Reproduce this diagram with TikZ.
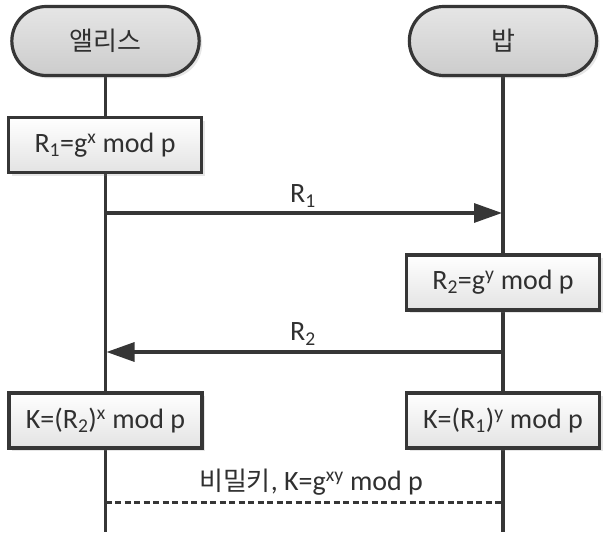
\documentclass[tikz,border=0pt]{standalone}
\usepackage{fontspec}
\setmainfont{Carlito}
\newfontfamily\kr{Noto Sans CJK KR}
\usetikzlibrary{arrows.meta,shadows,shapes.misc}
\definecolor{ln}{HTML}{363636}
\definecolor{tx}{HTML}{303030}
\begin{document}
\begin{tikzpicture}[x=1pt,y=-1pt,
  actor/.style={rounded rectangle, draw=ln, line width=3.2pt, minimum width=194pt, minimum height=69pt,
     top color=gray!20, bottom color=gray!40, text=tx, font=\kr\fontsize{26}{30}\selectfont,
     drop shadow={opacity=0.2, shadow xshift=3pt, shadow yshift=-3pt}},
  calc/.style={rectangle, draw=ln, line width=3.2pt, minimum width=193pt, minimum height=55pt,
     top color=white, bottom color=gray!22, text=tx, font=\fontsize{28}{32}\selectfont,
     drop shadow={opacity=0.2, shadow xshift=3pt, shadow yshift=-3pt}},
  life/.style={draw=ln, line width=3.2pt},
  msg/.style={draw=ln, line width=3.2pt, -{Triangle[length=28pt,width=19pt]}},
  lbl/.style={text=tx, font=\fontsize{28}{32}\selectfont, inner sep=0pt}
]
\useasboundingbox (0,0) rectangle (604,532);
% lifeline endpoints
\coordinate (aTop) at (105.5,60);
\coordinate (aBot) at (105.5,532);
\coordinate (bTop) at (503,60);
\coordinate (bBot) at (503,532);
\draw[life] (aTop) -- (aBot);
\draw[life] (bTop) -- (bBot);
% actors
\node[actor] (alice) at (105.5,41) {앨리스};
\node[actor] (bob) at (503,41) {밥};
% computations
\node[calc] (r1box) at (105,145) {R\textsubscript{1}=g\textsuperscript{x} mod p};
\node[calc] (r2box) at (503,282.5) {R\textsubscript{2}=g\textsuperscript{y} mod p};
\node[calc] (kA) at (105.5,420.5) {K=(R\textsubscript{2})\textsuperscript{x} mod p};
\node[calc] (kB) at (503,420.5) {K=(R\textsubscript{1})\textsuperscript{y} mod p};
% messages
\coordinate (m1s) at (105.5,213);
\coordinate (m1e) at (502,213);
\draw[msg] (m1s) -- (m1e);
\node[lbl] (m1l) at (303,196) {R\textsubscript{1}};
\coordinate (m2s) at (503,352);
\coordinate (m2e) at (106.5,352);
\draw[msg] (m2s) -- (m2e);
\node[lbl] (m2l) at (303,334) {R\textsubscript{2}};
% shared key
\coordinate (ks) at (105.5,502);
\coordinate (ke) at (503,502);
\draw[draw=ln, line width=3pt, dash pattern=on 6pt off 3.5pt] (ks) -- (ke);
\node[lbl] (kl) at (311,482) {{\kr\fontsize{26}{30}\selectfont 비밀키}, K=g\textsuperscript{xy} mod p};
\end{tikzpicture}
\end{document}
